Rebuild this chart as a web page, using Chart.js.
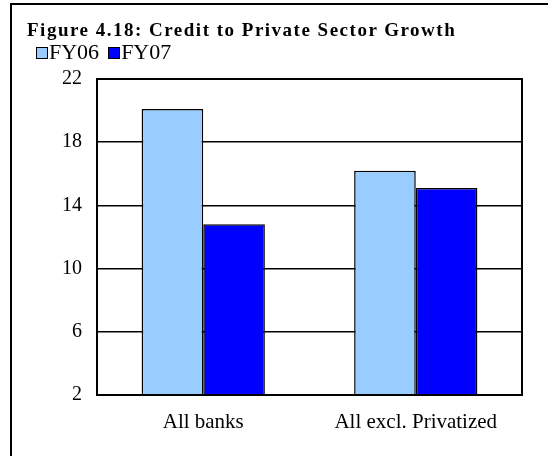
<!DOCTYPE html>
<html>
<head>
<meta charset="utf-8">
<script src="https://cdn.jsdelivr.net/npm/chart.js@4/dist/chart.umd.min.js"></script>
<style>
  body { margin: 0; background: #fff; }
  #wrap { position: relative; width: 548px; height: 456px; overflow: hidden;
          font-family: 'Liberation Serif', 'Times New Roman', serif; color: #000; }
  #frame { position: absolute; left: 10px; top: 3px; right: -5px; bottom: -5px;
           border-top: 2px solid #000; border-left: 2px solid #000; }
  #chart { position: absolute; left: 0; top: 0; }
  #title { position: absolute; left: 27px; top: 20px; font-size: 19px; line-height: 1;
           font-weight: bold; letter-spacing: 1.5px; white-space: nowrap; }
  #legend { position: absolute; left: 36px; top: 41px; font-size: 22px; line-height: 1;
            display: flex; white-space: nowrap; }
  #legend .item { display: flex; margin-right: 9px; position: relative; }
  #legend .box { width: 10px; height: 10px; border: 1px solid #000; margin-top: 6px; margin-right: 1px; }
</style>
</head>
<body>
<div id="wrap">
  <div id="frame"></div>
  <canvas id="chart" width="548" height="456"></canvas>
  <div id="title">Figure 4.18: Credit to Private Sector Growth</div>
  <div id="legend"></div>
</div>
<script>
// data
const categories = ["All banks", "All excl. Privatized"];
const fy06 = [20.1, 16.2];
const fy07 = [12.8, 15.1];
const seriesNames = ["FY06", "FY07"];
const seriesColors = ["#99CCFF", "#0000FF"];
const yTicks = [2, 6, 10, 14, 18, 22];

const serif = "'Liberation Serif', 'Times New Roman', serif";

// legend as html so the box sits tight against the text
const legendDiv = document.getElementById("legend");
seriesNames.forEach(function(name, i) {
  const item = document.createElement("div");
  item.className = "item";
  const box = document.createElement("div");
  box.className = "box";
  box.style.background = seriesColors[i];
  const txt = document.createElement("span");
  txt.textContent = name;
  item.appendChild(box);
  item.appendChild(txt);
  legendDiv.appendChild(item);
});

// box round the plot area
const plotBox = {
  id: "plotBox",
  afterDatasetsDraw(chart) {
    const a = chart.chartArea;
    const ctx = chart.ctx;
    ctx.save();
    ctx.strokeStyle = "#000";
    ctx.lineWidth = 2;
    ctx.strokeRect(a.left, a.top, a.right - a.left, a.bottom - a.top);
    ctx.restore();
  }
};

const ctx = document.getElementById("chart").getContext("2d");
new Chart(ctx, {
  type: "bar",
  data: {
    labels: categories,
    datasets: seriesNames.map(function(name, i) {
      return {
        label: name,
        data: i == 0 ? fy06 : fy07,
        backgroundColor: seriesColors[i],
        borderColor: "#000",
        borderWidth: 1.5,
        categoryPercentage: 0.58,
        barPercentage: 1.0
      };
    })
  },
  options: {
    responsive: false,
    animation: false,
    layout: { padding: { left: 0, right: 26, top: 79, bottom: 20 } },
    plugins: {
      title: { display: false },
      legend: { display: false },
      tooltip: { enabled: false }
    },
    scales: {
      x: {
        afterFit(axis) {
          axis.height = 41;
        },
        grid: { display: false },
        border: { display: true, color: "#000", width: 2 },
        ticks: { color: "#000", padding: 7, maxRotation: 0, font: { family: serif, size: 21 } }
      },
      y: {
        min: 2,
        max: 22,
        afterBuildTicks(axis) {
          axis.ticks = yTicks.map(v => ({ value: v }));
        },
        afterFit(axis) {
          axis.width = 97;
        },
        grid: { color: "#000", lineWidth: 1.5, drawTicks: false },
        border: { display: true, color: "#000", width: 2 },
        ticks: { color: "#000", padding: 15, font: { family: serif, size: 20 } }
      }
    }
  },
  plugins: [plotBox]
});
</script>
</body>
</html>
